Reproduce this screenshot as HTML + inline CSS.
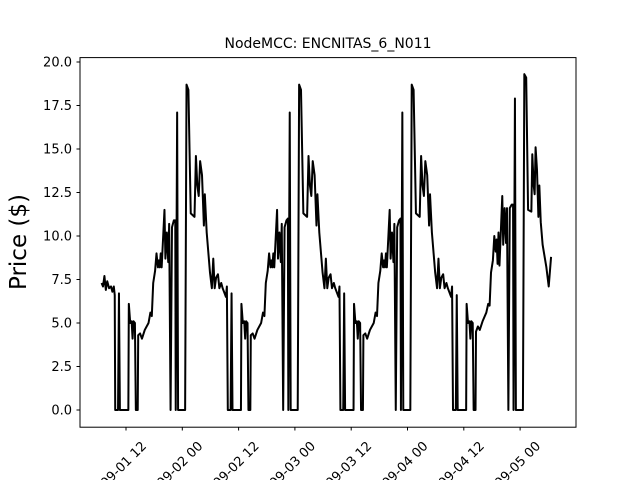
<!DOCTYPE html>
<html><head><meta charset="utf-8"><style>
body{margin:0;background:#fff;}
svg{display:block;font-family:"DejaVu Sans","Liberation Sans",sans-serif;}
</style></head><body>
<svg id="chart" width="640" height="480" viewBox="0 0 640 480">
<rect width="640" height="480" fill="#fff"/>
<text x="328" y="48" font-size="14" text-anchor="middle">NodeMCC: ENCNITAS_6_N011</text>
<text transform="translate(26,242) rotate(-90)" font-size="23" text-anchor="middle">Price ($)</text>
<g id="yticks"></g>
<g id="xticks"></g>
<path id="series" fill="none" stroke="#000" stroke-width="2" stroke-linejoin="round"/>
<rect x="80" y="57.6" width="496" height="369.6" fill="none" stroke="#000" stroke-width="1"/>
</svg>
<script>
// hours since 2022-09-01 00:00
const hours = [
6.8,7.1,7.4,7.7,8.0,8.4,8.8,9.1,9.4,9.6,9.7,10.3,10.5,10.7,12.5,12.6,12.9,13.2,13.4,13.6,13.9,14.1,14.5,14.6,15.0,15.4,16.0,16.8,17.2,17.5,17.8,18.2,18.5,18.8,19.0,19.2,19.4,19.6,20.2,20.4,20.7,21.0,21.2,21.5,21.8,22.2,22.5,22.6,22.9,23.1,24.6,24.9,25.3,25.8,26.6,26.9,27.2,27.5,27.8,28.2,28.6,28.8,29.2,29.9,30.3,30.6,30.9,31.2,31.6,31.9,32.3,32.6,33.3,33.5,
33.7,34.3,34.5,34.7,36.5,36.6,36.9,37.2,37.4,37.6,37.9,38.1,38.5,38.6,39.0,39.4,40.0,40.8,41.2,41.5,41.8,42.2,42.5,42.8,43.0,43.2,43.4,43.6,44.2,44.4,44.7,45.0,45.2,45.5,45.8,46.2,46.5,46.6,46.9,47.1,48.6,48.9,49.3,49.8,50.6,50.9,51.2,51.5,51.8,52.2,52.6,52.8,53.2,53.9,54.3,54.6,54.9,55.2,55.6,55.9,56.3,56.6,57.3,57.5,
57.7,58.3,58.5,58.7,60.5,60.6,60.9,61.2,61.4,61.6,61.9,62.1,62.5,62.6,63.0,63.4,64.0,64.8,65.2,65.5,65.8,66.2,66.5,66.8,67.0,67.2,67.4,67.6,68.2,68.4,68.7,69.0,69.2,69.5,69.8,70.2,70.5,70.6,70.9,71.1,72.6,72.9,73.3,73.8,74.6,74.9,75.2,75.5,75.8,76.2,76.6,76.8,77.2,77.9,78.3,78.6,78.9,79.2,79.6,79.9,80.3,80.6,81.3,81.5,
81.7,82.3,82.5,82.7,84.5,84.6,84.9,85.2,85.4,85.6,85.9,86.1,86.5,86.6,87.0,87.4,88.0,88.8,89.2,89.5,89.8,90.2,90.5,90.8,91.0,91.2,91.4,91.6,92.2,92.4,92.7,93.0,93.2,93.5,93.8,94.2,94.5,94.6,94.9,95.1,96.6,96.9,97.3,97.7,98.4,98.6,98.9,99.1,99.3,99.6,99.9,100.1,100.4,100.8,101.6,102.1,102.6,102.9
];
const prices = [
7.3,7.1,7.7,6.9,7.4,7.0,7.1,6.8,7.1,6.6,0,0,6.7,0,0,6.1,5.0,5.1,4.1,5.1,5.0,0,0,4.3,4.4,4.1,4.6,5.0,5.6,5.4,7.3,8.0,9.0,8.2,8.6,8.2,9.0,8.2,11.5,8.7,10.2,8.5,10.7,0,10.5,10.9,10.9,0,17.1,0,0,18.7,18.4,11.3,11.1,14.6,12.9,12.3,14.3,13.5,10.6,12.4,10.2,7.9,7.0,8.7,7.0,7.6,7.8,7.0,7.3,7.0,6.5,7.1,
0,0,6.7,0,0,6.1,5.0,5.1,4.1,5.1,5.0,0,0,4.3,4.4,4.1,4.6,5.0,5.6,5.4,7.3,8.0,9.0,8.2,8.6,8.2,9.0,8.2,11.5,8.7,10.2,8.5,10.7,0,10.5,10.9,11.0,0,17.1,0,0,18.7,18.4,11.3,11.1,14.6,12.9,12.3,14.3,13.5,10.6,12.4,10.2,7.9,7.0,8.7,7.0,7.6,7.8,7.0,7.3,7.0,6.5,7.1,
0,0,6.7,0,0,6.1,5.0,5.1,4.1,5.1,5.0,0,0,4.3,4.4,4.1,4.6,5.0,5.6,5.4,7.3,8.0,9.0,8.2,8.6,8.2,9.0,8.2,11.5,8.7,10.2,8.5,10.7,0,10.5,10.9,11.0,0,17.1,0,0,18.7,18.4,11.3,11.1,14.6,12.9,12.3,14.3,13.5,10.6,12.4,10.2,7.9,7.0,8.7,7.0,7.6,7.8,7.0,7.3,7.0,6.5,7.1,
0,0,6.6,0,0,6.1,5.0,5.1,4.1,5.1,5.0,0,0,4.5,4.8,4.6,5.1,5.6,6.1,6.0,7.9,8.6,10.0,9.1,9.8,8.4,10.2,8.3,12.3,9.5,11.6,9.6,11.6,0,11.6,11.8,11.8,0,17.9,0,0,19.3,19.1,11.5,11.4,14.7,12.9,12.4,15.1,13.8,11.1,12.9,10.8,9.5,8.2,7.1,8.8
];
const yTickValues = [0,2.5,5,7.5,10,12.5,15,17.5,20];
const yTickLabels = ["0.0","2.5","5.0","7.5","10.0","12.5","15.0","17.5","20.0"];
const xTickHours = [12,24,36,48,60,72,84,96];
const xTickLabels = ["09-01 12","09-02 00","09-02 12","09-03 00","09-03 12","09-04 00","09-04 12","09-05 00"];

const NS="http://www.w3.org/2000/svg";
const xScale = h => 126 + (h-12)*4.6917;
const yScale = v => 410 - v*17.4;

const yg=document.getElementById('yticks');
yTickValues.forEach((v,i)=>{
  const y=yScale(v);
  const l=document.createElementNS(NS,'line');
  l.setAttribute('x1',76.5);l.setAttribute('x2',80);l.setAttribute('y1',y);l.setAttribute('y2',y);
  l.setAttribute('stroke','#000');
  
  
  yg.appendChild(l);
  const t=document.createElementNS(NS,'text');
  t.setAttribute('x',72);t.setAttribute('y',y+4.5);t.setAttribute('font-size','13');t.setAttribute('text-anchor','end');
  t.textContent=yTickLabels[i];
  
  
  yg.appendChild(t);
});
const xg=document.getElementById('xticks');
xTickHours.forEach((h,i)=>{
  const x=xScale(h);
  const l=document.createElementNS(NS,'line');
  l.setAttribute('x1',x);l.setAttribute('x2',x);l.setAttribute('y1',427);l.setAttribute('y2',430.5);
  l.setAttribute('stroke','#000');
  
  
  xg.appendChild(l);
  const t=document.createElementNS(NS,'text');
  t.setAttribute('transform','translate('+(x-2)+',465) rotate(-45)');
  t.setAttribute('font-size','13');t.setAttribute('text-anchor','middle');t.setAttribute('dominant-baseline','central');
  t.textContent=xTickLabels[i];
  
  
  xg.appendChild(t);
});
let d='';
hours.forEach((h,i)=>{d+=(i?'L':'M')+xScale(h).toFixed(2)+','+yScale(prices[i]).toFixed(2);});
document.getElementById('series').setAttribute('d',d);
</script>
</body></html>
